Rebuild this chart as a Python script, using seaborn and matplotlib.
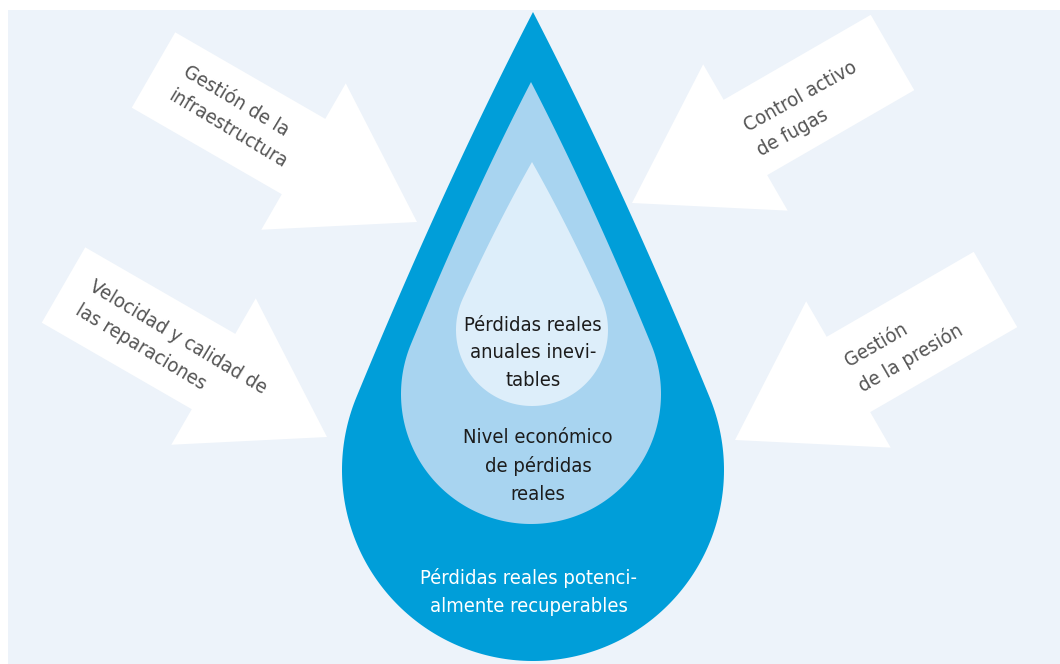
import numpy as np
import seaborn as sns
import matplotlib.pyplot as plt
from matplotlib.patches import Polygon, Rectangle

sns.set_theme(style="white")
plt.rcParams['font.family'] = ['DejaVu Sans']
plt.rcParams['font.stretch'] = 'condensed'

# drop layers, outer to inner
layer_labels = ["Pérdidas reales potenci-\nalmente recuperables",
                "Nivel económico\nde pérdidas\nreales",
                "Pérdidas reales\nanuales inevi-\ntables"]
layer_colors = ["#009ed9", "#a8d4f0", "#ddeefa"]
layer_text_colors = ["white", "#1c1c1c", "#1c1c1c"]
layer_tip_y = [12, 82, 162]
layer_center_x = [533, 531, 532]
layer_center_y = [470, 394, 330]
layer_radius = [191, 130, 76]
layer_label_xy = [(529, 592), (538, 466), (533, 353)]

# white arrows around the drop
arrow_labels = ["Gestión de la\ninfraestructura",
                "Control activo\nde fugas",
                "Velocidad y calidad de\nlas reparaciones",
                "Gestión\nde la presión"]
arrow_tails = [(153.5, 70), (892.5, 52.5), (63.5, 285), (995.5, 289.5)]
arrow_tips = [(417, 222), (632, 203), (327, 437), (735, 440)]
arrow_label_xy = [(235, 117), (807, 109), (171, 349), (904, 346)]
arrow_label_rot = [-31, 29, -31, 30]


def drop_shape(cx, cy, r, tip_y, n=200, bulge=0.04, k=0.45):
    # round bottom plus slightly convex sides running up to the tip
    d = cy - tip_y
    th0 = np.arccos(r / d) + bulge
    p2 = np.array([cx + r * np.sin(th0), cy - r * np.cos(th0)])
    t = (1 - k) * (p2[1] - tip_y) / np.sin(th0)
    p1 = p2 + t * np.array([-np.cos(th0), -np.sin(th0)])
    p0 = np.array([cx, tip_y])
    s = np.linspace(0, 1, 60)[:, None]
    right = (1 - s) ** 2 * p0 + 2 * (1 - s) * s * p1 + s ** 2 * p2
    th = np.linspace(th0, 2 * np.pi - th0, n)
    arc = np.column_stack([cx + r * np.sin(th), cy - r * np.cos(th)])
    left = right[::-1].copy()
    left[:, 0] = 2 * cx - left[:, 0]
    return np.vstack([right, arc, left])


def arrow_shape(tail, tip, body_w=87, head_w=169, head_len=131):
    tail = np.array(tail, float)
    tip = np.array(tip, float)
    v = tip - tail
    u = v / np.linalg.norm(v)
    p = np.array([-u[1], u[0]])
    hb = tip - head_len * u
    pts = [tail + p * body_w / 2, hb + p * body_w / 2, hb + p * head_w / 2, tip,
           hb - p * head_w / 2, hb - p * body_w / 2, tail - p * body_w / 2]
    return pts


fig = plt.figure(figsize=(10.6, 6.64), dpi=100)
ax = fig.add_axes([0, 0, 1, 1])
ax.set_xlim(0, 1060)
ax.set_ylim(664, 0)
ax.axis('off')

ax.add_patch(Rectangle((8, 10), 1060, 664, color="#edf3fa", lw=0))

for tail, tip in zip(arrow_tails, arrow_tips):
    ax.add_patch(Polygon(arrow_shape(tail, tip), closed=True, color="white", lw=0))

for lab, (x, y), rot in zip(arrow_labels, arrow_label_xy, arrow_label_rot):
    ax.text(x, y, lab, rotation=rot, rotation_mode='anchor', ha='center', va='center',
            multialignment='left', fontsize=14.5, color="#555555", linespacing=1.6)

for i in range(3):
    ax.add_patch(Polygon(drop_shape(layer_center_x[i], layer_center_y[i], layer_radius[i], layer_tip_y[i]),
                         closed=True, color=layer_colors[i], lw=0))
    x, y = layer_label_xy[i]
    ax.text(x, y, layer_labels[i], ha='center', va='center', multialignment='center',
            fontsize=14.5, color=layer_text_colors[i], linespacing=1.55)

fig.savefig("out.png", dpi=100)
